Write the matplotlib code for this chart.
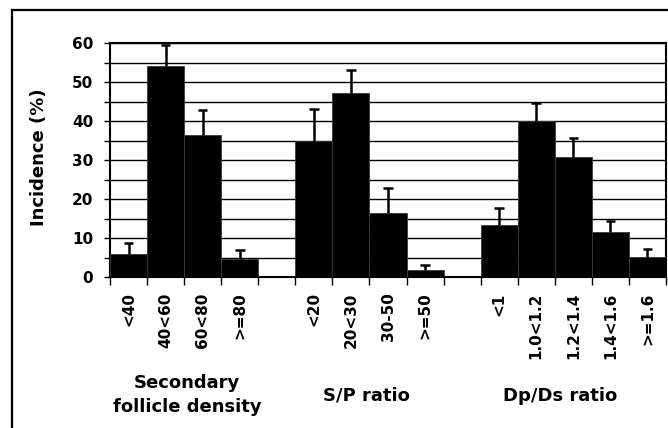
import matplotlib
matplotlib.use("Agg")
import matplotlib.pyplot as plt
from matplotlib.lines import Line2D
import numpy as np

plt.rcParams['font.family'] = ['DejaVu Sans']
plt.rcParams['font.weight'] = 'bold'

groups = ["Secondary\nfollicle density", "S/P ratio", "Dp/Ds ratio"]
cats_density = ["<40", "40<60", "60<80", ">=80"]
cats_sp = ["<20", "20<30", "30-50", ">=50"]
cats_dpds = ["<1", "1.0<1.2", "1.2<1.4", "1.4<1.6", ">=1.6"]

vals_density = [6.0, 54.1, 36.3, 4.7]
vals_sp = [34.8, 47.1, 16.3, 1.9]
vals_dpds = [13.4, 40.0, 30.8, 11.6, 5.2]

err_density = [2.8, 5.3, 6.4, 2.1]
err_sp = [8.4, 6.0, 6.6, 1.1]
err_dpds = [4.3, 4.7, 4.8, 2.7, 2.1]

cat_groups = [cats_density, cats_sp, cats_dpds]
val_groups = [vals_density, vals_sp, vals_dpds]
err_groups = [err_density, err_sp, err_dpds]

W, H = 668, 428
fig = plt.figure(figsize=(W / 100, H / 100), dpi=100)
fig.patch.set_facecolor('white')

# outer frame (left and top edges visible)
fig.add_artist(Line2D([12.5 / W, 12.5 / W], [0, 1 - 9.5 / H], transform=fig.transFigure,
                      color='black', linewidth=1.6))
fig.add_artist(Line2D([12.5 / W, 1.0], [1 - 9.5 / H, 1 - 9.5 / H], transform=fig.transFigure,
                      color='black', linewidth=1.6))

ax = fig.add_axes([110 / W, 1 - 277 / H, (666 - 110) / W, (277 - 43) / H])

labels, xs, vals, errs = [], [], [], []
pos = 0
for gi, (c, v, e) in enumerate(zip(cat_groups, val_groups, err_groups)):
    for ci, vi, ei in zip(c, v, e):
        xs.append(pos + 0.5)
        labels.append(ci)
        vals.append(vi)
        errs.append(ei)
        pos += 1
    if gi < len(cat_groups) - 1:
        pos += 1
nslots = pos
xs = np.array(xs)
vals = np.array(vals)
errs = np.array(errs)

ax.bar(xs, vals, width=1.0, color='black', edgecolor='#3a3a3a', linewidth=0.6, zorder=3)
# upper-only error bars with a cap at the top
ax.vlines(xs, vals, vals + errs, colors='black', linewidth=1.8, zorder=4)
ax.hlines(vals + errs, xs - 0.13, xs + 0.13, colors='black', linewidth=1.8, zorder=4)

ax.set_xlim(0, nslots)
ax.set_ylim(0, 60)
ax.set_yticks(np.arange(0, 61, 10))
ax.set_yticks(np.arange(5, 60, 10), minor=True)
ax.yaxis.grid(True, which='both', color='black', linewidth=1.0, zorder=0)
ax.set_axisbelow(True)
ax.tick_params(axis='y', which='both', direction='out', length=4, width=1, labelsize=11, pad=8)
for t in ax.get_yticklabels():
    t.set_fontweight('bold')

ax.set_xticks(xs)
ax.set_xticklabels(labels, rotation=90, fontsize=11, fontweight='bold', va='top', ha='center')
ax.tick_params(axis='x', which='major', length=0, pad=11)
ax.set_xticks(np.arange(0, nslots + 1), minor=True)
ax.tick_params(axis='x', which='minor', direction='out', length=6, width=1)

for s in ax.spines.values():
    s.set_linewidth(1.5)
    s.set_color('black')

fig.text(38.5 / W, 1 - 157.5 / H, "Incidence (%)", rotation=90, ha='center', va='center',
         fontsize=13, fontweight='bold')

group_pos = [(187, 395), (366, 396), (560, 396)]
for (gx, gy), gname in zip(group_pos, groups):
    fig.text(gx / W, 1 - gy / H, gname, ha='center', va='center', fontsize=13,
             fontweight='bold', linespacing=1.5)

fig.savefig("out.png", dpi=100, facecolor='white')
